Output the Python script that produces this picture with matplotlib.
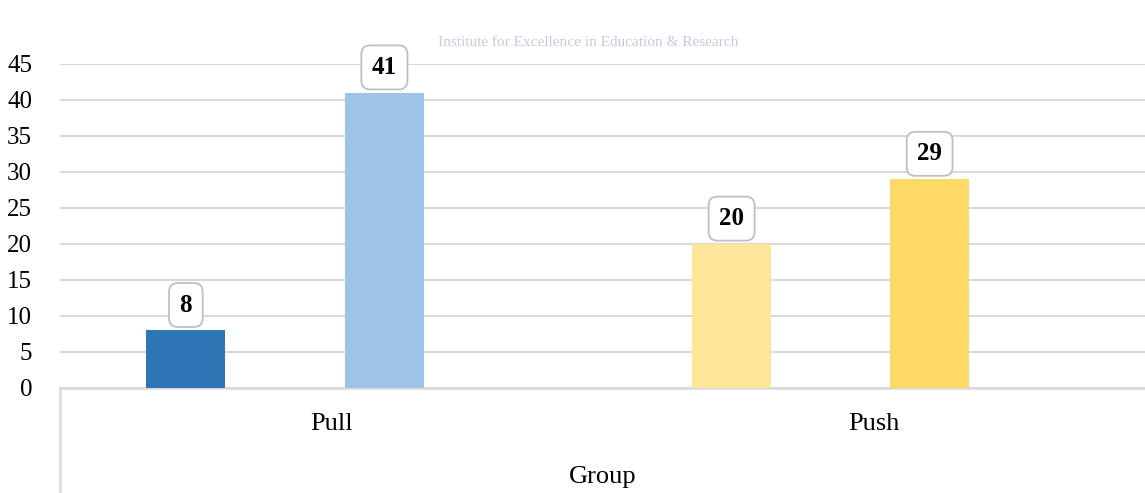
import matplotlib.pyplot as plt
from matplotlib.lines import Line2D

groups = ["Pull", "Push"]
bar_group = [0, 0, 1, 1]
bar_values = [8, 41, 20, 29]
bar_colors = ["#2E75B6", "#9DC3E6", "#FFE699", "#FFD966"]
bar_offsets = [-0.268, 0.098, -0.262, 0.103]
yticks = list(range(0, 50, 5))

plt.rcParams['font.family'] = ['Liberation Serif', 'DejaVu Serif']

fig = plt.figure(figsize=(11.45, 4.93), dpi=100)
ax = fig.add_axes([60 / 1145, 105 / 493, 1085 / 1145, 324 / 493])

xs = [g + o for g, o in zip(bar_group, bar_offsets)]
ax.bar(xs, bar_values, width=0.146, color=bar_colors, zorder=3)

for x, v in zip(xs, bar_values):
    ax.annotate(str(v), (x, v), xytext=(0, 10), textcoords="offset points",
                ha="center", va="bottom", fontsize=18, fontweight="bold",
                bbox=dict(boxstyle="round,pad=0.42,rounding_size=0.35",
                          fc="white", ec="#BFBFBF", lw=1.3), zorder=4)

ax.set_xlim(-0.5, 1.5)
ax.set_ylim(0, 45)
ax.set_yticks(yticks)
ax.set_xticks(range(len(groups)))
ax.set_xticklabels(groups, fontsize=19)
ax.tick_params(axis="y", length=0, pad=20, labelsize=18)
ax.tick_params(axis="x", length=0, pad=18)
ax.grid(axis="y", color="#D9D9D9", lw=1.5, zorder=0)
for s in ["top", "right", "left"]:
    ax.spines[s].set_visible(False)
ax.spines["bottom"].set_color("#D9D9D9")
ax.spines["bottom"].set_linewidth(1.8)
ax.set_xlabel("Group", fontsize=19, labelpad=22)

# left border of the category box
fig.add_artist(Line2D([60 / 1145, 60 / 1145], [0, 105 / 493],
                      color="#D9D9D9", lw=1.8))

# faint watermark
fig.text(588 / 1145, 1 - 43 / 493, "Institute for Excellence in Education & Research",
         ha="center", va="center", fontsize=11, color="#C9C9DD")

fig.savefig("out.png", dpi=100)
